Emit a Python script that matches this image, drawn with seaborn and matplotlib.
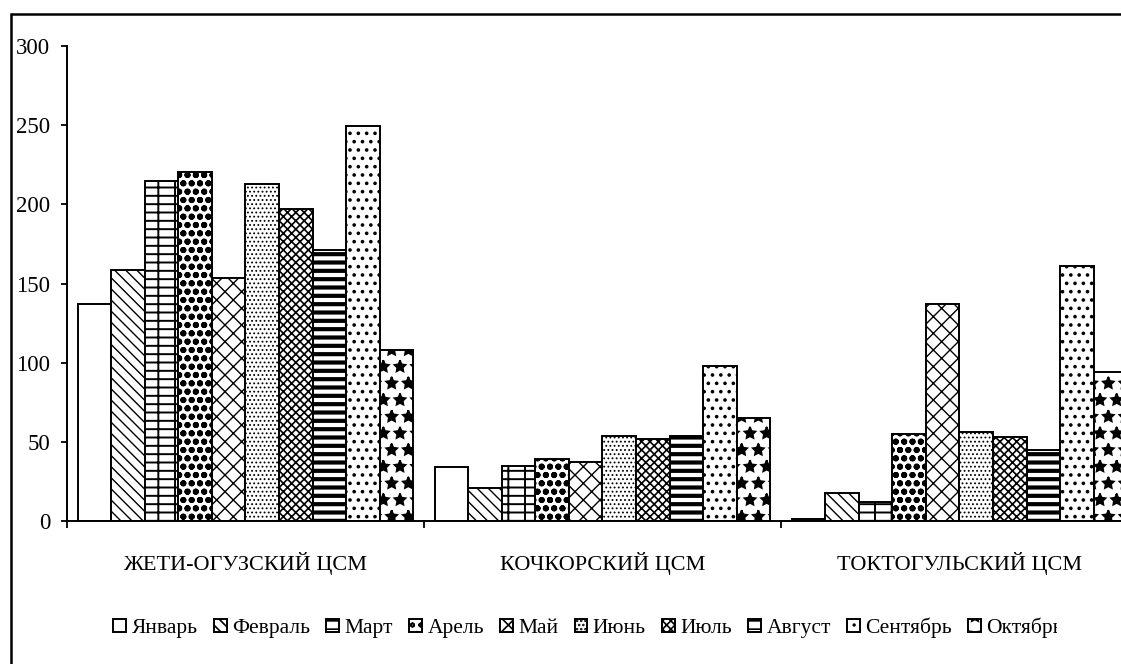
import matplotlib
matplotlib.use("Agg")
import matplotlib.pyplot as plt
import seaborn as sns
import pandas as pd
from matplotlib.patches import Patch, Rectangle
from matplotlib.transforms import Bbox, IdentityTransform, TransformedBbox

# station groups and months
stations = ["ЖЕТИ-ОГУЗСКИЙ ЦСМ", "КОЧКОРСКИЙ ЦСМ", "ТОКТОГУЛЬСКИЙ ЦСМ"]
months = ["Январь", "Февраль", "Март", "Арель", "Май", "Июнь",
          "Июль", "Август", "Сентябрь", "Октябрь"]

# values, one list per station
jeti_oguz = [137, 158.5, 215, 220.5, 153.5, 213, 197, 171, 249.5, 108]
kochkor = [34, 21, 35, 39, 37.5, 54, 52, 54, 98, 65]
toktogul = [1.5, 17.5, 12, 55, 137, 56.5, 53, 45, 161, 94]
yticks = [0, 50, 100, 150, 200, 250, 300]

# one hatch per month, roughly like the excel fill patterns
hatches = ["", "\\\\\\", "--|", "oo", "xx", "....", "xxxx", "--", "..", "*"]
hatch_lw = [1.0, 1.0, 1.4, 2.0, 1.0, 0.8, 1.2, 3.0, 1.4, 1.4]

rows = []
for st, vals in zip(stations, [jeti_oguz, kochkor, toktogul]):
    for m, v in zip(months, vals):
        rows.append({"station": st, "month": m, "value": v})
df = pd.DataFrame(rows)

sns.set_theme(style="white")
plt.rcParams["font.family"] = ["Liberation Serif", "DejaVu Serif"]
plt.rcParams["hatch.linewidth"] = 1.2
plt.rcParams["hatch.color"] = "black"

W, H = 1121, 664
fig = plt.figure(figsize=(W / 100, H / 100), dpi=100)
fig.patch.set_facecolor("white")
ax = fig.add_axes([67 / W, (H - 521) / H, 1071 / W, 475 / H])

sns.barplot(data=df, x="station", y="value", hue="month", order=stations,
            hue_order=months, palette=["white"] * len(months), saturation=1,
            edgecolor="black", linewidth=1.4, width=0.94, ax=ax, legend=False)

for cont, h, lw in zip(ax.containers, hatches, hatch_lw):
    for bar in cont:
        bar.set_hatch(h)
        if hasattr(bar, "set_hatch_linewidth"):
            bar.set_hatch_linewidth(lw)

ax.set_xlim(-0.5, 2.5)
ax.set_ylim(0, 300)
ax.set_yticks(yticks)
ax.set_yticklabels([str(t) for t in yticks])
ax.set_xticks([-0.5, 0.5, 1.5, 2.5])
ax.set_xticklabels([])
ax.set_xticks([0, 1, 2], minor=True)
ax.set_xticklabels(stations, minor=True)
ax.tick_params(axis="x", which="major", direction="out", length=5, width=1.3,
               color="black", bottom=True)
ax.tick_params(axis="x", which="minor", length=0, pad=22, labelsize=16,
               labelcolor="black")
ax.tick_params(axis="y", direction="out", length=4, width=1.3, color="black",
               left=True, pad=8, labelsize=16.5, labelcolor="black")
ax.set_xlabel("")
ax.set_ylabel("")
sns.despine(ax=ax, top=True, right=True)
for s in ["left", "bottom"]:
    ax.spines[s].set_color("black")
    ax.spines[s].set_linewidth(1.4)

handles = []
for h, lw in zip(hatches, hatch_lw):
    p = Patch(facecolor="white", edgecolor="black", hatch=h, linewidth=1.4)
    if hasattr(p, "set_hatch_linewidth"):
        p.set_hatch_linewidth(lw)
    handles.append(p)
leg = fig.legend(handles, months, loc="center", ncol=len(months),
                 bbox_to_anchor=(588 / W, (H - 628) / H), frameon=False,
                 fontsize=15.5, handlelength=0.6, handleheight=0.6,
                 handletextpad=0.25, columnspacing=0.75, borderaxespad=0)
for t in leg.get_texts():
    t.set_color("black")

# the legend box in the original cuts the last word short
fig.canvas.draw()
last = leg.get_texts()[-1]
last.set_clip_box(TransformedBbox(Bbox([[0, 0], [1057, H]]), IdentityTransform()))
last.set_clip_on(True)

# chart area border (cut off on the right and bottom in the original)
fig.patches.append(Rectangle((11 / W, -0.1), 1.2, (H - 14) / H + 0.1,
                             transform=fig.transFigure, fill=False,
                             edgecolor="black", linewidth=1.8))

fig.savefig("out.png", dpi=100)
